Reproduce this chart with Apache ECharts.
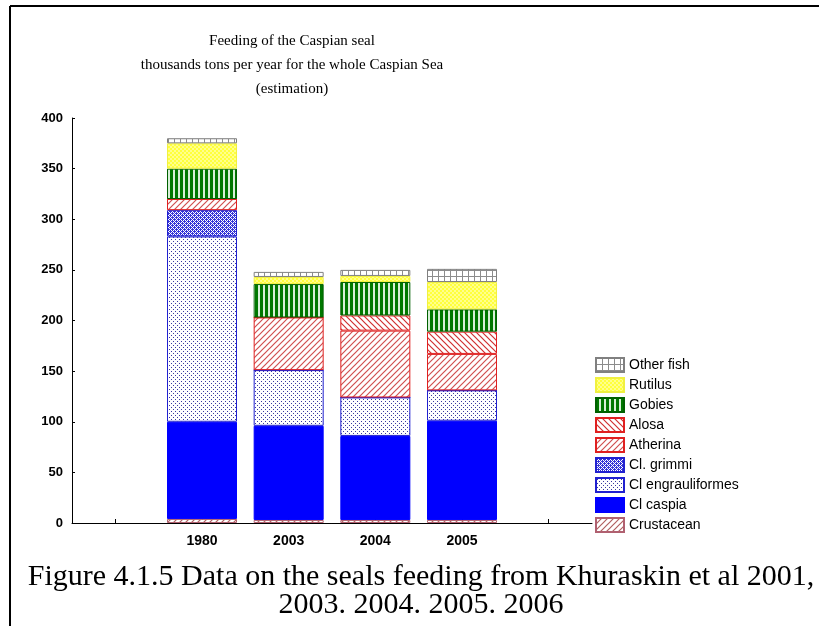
<!DOCTYPE html>
<html>
<head>
  <meta charset="UTF-8">
  <title>Feeding of the Caspian seal</title>
  <script src="https://cdn.jsdelivr.net/npm/echarts@6/dist/echarts.min.js"></script>
  <style>
    html, body { margin: 0; padding: 0; background: #fff; }
    #chart { width: 819px; height: 626px; }
  </style>
</head>
<body>
<div id="chart"></div>
<script>
  // data (thousand tons per year)
  var years = ['', '1980', '2003', '2004', '2005', ''];
  var crustacean     = [null, 4, 3, 3, 3, null];
  var clCaspia       = [null, 96, 93, 83, 98, null];
  var clEngrauli     = [null, 183, 55, 38, 30, null];
  var clGrimmi       = [null, 26, 0, 0, 0, null];
  var atherina       = [null, 11, 52, 66, 36, null];
  var alosa          = [null, 0, 0, 15, 22, null];
  var gobies         = [null, 30, 33, 33, 22, null];
  var rutilus        = [null, 25, 7, 6, 27, null];
  var otherFish      = [null, 5, 5, 6, 13, null];
  var yTicks = [0, 50, 100, 150, 200, 250, 300, 350, 400];

  // fill patterns
  function tile(w, h, draw) {
    var c = document.createElement('canvas');
    c.width = w; c.height = h;
    var ctx = c.getContext('2d');
    draw(ctx, w, h);
    return { image: c, repeat: 'repeat' };
  }
  function diag(color, back) {
    return tile(6, 6, function (ctx, w, h) {
      ctx.fillStyle = '#fff'; ctx.fillRect(0, 0, w, h);
      ctx.strokeStyle = color; ctx.lineWidth = 1.2;
      ctx.beginPath();
      if (back) {
        ctx.moveTo(-1, -1); ctx.lineTo(7, 7);
        ctx.moveTo(-1, 5); ctx.lineTo(1, 7);
        ctx.moveTo(5, -1); ctx.lineTo(7, 1);
      } else {
        ctx.moveTo(-1, 7); ctx.lineTo(7, -1);
        ctx.moveTo(-1, 1); ctx.lineTo(1, -1);
        ctx.moveTo(5, 7); ctx.lineTo(7, 5);
      }
      ctx.stroke();
    });
  }
  var pat = {
    other: tile(6, 6, function (ctx, w, h) {
      ctx.fillStyle = '#fff'; ctx.fillRect(0, 0, w, h);
      ctx.fillStyle = '#8c8c8c';
      ctx.fillRect(0, 0, w, 1); ctx.fillRect(0, 0, 1, h);
    }),
    rutilus: tile(4, 4, function (ctx, w, h) {
      ctx.fillStyle = '#ffff3c'; ctx.fillRect(0, 0, w, h);
      ctx.fillStyle = '#ffff8c';
      ctx.fillRect(0, 0, 2, 2); ctx.fillRect(2, 2, 2, 2);
    }),
    gobies: tile(5, 2, function (ctx, w, h) {
      ctx.fillStyle = '#007800'; ctx.fillRect(0, 0, w, h);
      ctx.fillStyle = '#d8f0d8'; ctx.fillRect(3, 0, 2, h);
    }),
    alosa: diag('#d03030', true),
    atherina: diag('#d05050', false),
    grimmi: tile(4, 4, function (ctx, w, h) {
      ctx.fillStyle = '#fff'; ctx.fillRect(0, 0, w, h);
      ctx.fillStyle = '#3535d8';
      ctx.fillRect(0, 0, 1, 1); ctx.fillRect(2, 0, 1, 1);
      ctx.fillRect(1, 1, 1, 1); ctx.fillRect(3, 1, 1, 1);
      ctx.fillRect(0, 2, 1, 1); ctx.fillRect(2, 2, 1, 1);
      ctx.fillRect(1, 3, 1, 1); ctx.fillRect(3, 3, 1, 1);
      ctx.fillRect(0, 1, 1, 1); ctx.fillRect(2, 3, 1, 1);
    }),
    engrauli: tile(4, 4, function (ctx, w, h) {
      ctx.fillStyle = '#fff'; ctx.fillRect(0, 0, w, h);
      ctx.fillStyle = '#3a3aa0';
      ctx.fillRect(1, 1, 1, 1); ctx.fillRect(3, 3, 1, 1);
    }),
    crust: diag('#b06060', false)
  };

  function seg(name, data, fill, border) {
    return {
      name: name,
      type: 'bar',
      stack: 'food',
      barWidth: 70,
      data: data,
      itemStyle: { color: fill, borderColor: border, borderWidth: 1 },
      emphasis: { disabled: true }
    };
  }

  var series = [
    seg('Crustacean', crustacean, pat.crust, '#b06070'),
    seg('Cl caspia', clCaspia, '#0000ff', '#0000ff'),
    seg('Cl engrauliformes', clEngrauli, pat.engrauli, '#2020d0'),
    seg('Cl. grimmi', clGrimmi, pat.grimmi, '#2020d0'),
    seg('Atherina', atherina, pat.atherina, '#e02020'),
    seg('Alosa', alosa, pat.alosa, '#e02020'),
    seg('Gobies', gobies, pat.gobies, '#006000'),
    seg('Rutilus', rutilus, pat.rutilus, '#f0f040'),
    seg('Other fish', otherFish, pat.other, '#808080')
  ];
  var legendNames = series.map(function (s) { return s.name; }).reverse();

  var chart = echarts.init(document.getElementById('chart'), null, { renderer: 'canvas' });
  var option = {
    animation: false,
    backgroundColor: '#fff',
    title: [
      {
        text: 'Feeding of the Caspian seal\nthousands tons per year for the whole Caspian Sea\n(estimation)',
        left: 287, top: 24, textAlign: 'center',
        textStyle: { fontFamily: 'Liberation Serif', fontWeight: 'normal', fontSize: 15, lineHeight: 24, color: '#000' }
      },
      {
        text: 'Figure 4.1.5 Data on the seals feeding from Khuraskin et al 2001,\n2003. 2004. 2005. 2006',
        left: 416, top: 558, textAlign: 'center',
        textStyle: { fontFamily: 'Liberation Serif', fontWeight: 'normal', fontSize: 30, lineHeight: 28, color: '#000' }
      }
    ],
    legend: {
      orient: 'vertical',
      left: 595, top: 357, padding: 0,
      itemWidth: 28, itemHeight: 14, itemGap: 4,
      icon: 'rect',
      data: legendNames,
      selectedMode: false,
      textStyle: { fontFamily: 'Liberation Sans', fontSize: 14, lineHeight: 14, color: '#000', padding: [0, 0, 0, 0] }
    },
    grid: { left: 72, right: 227, top: 118, bottom: 103 },
    xAxis: {
      type: 'category',
      data: years,
      axisLine: { lineStyle: { color: '#000', width: 1 } },
      axisTick: { show: true, inside: true, length: 4, alignWithLabel: true, lineStyle: { color: '#000' } },
      axisLabel: { fontFamily: 'Liberation Sans', fontWeight: 'bold', fontSize: 14, color: '#000', margin: 11 },
      splitLine: { show: false }
    },
    yAxis: {
      type: 'value',
      min: yTicks[0],
      max: yTicks[yTicks.length - 1],
      interval: yTicks[1] - yTicks[0],
      axisLine: { show: true, lineStyle: { color: '#000', width: 1 } },
      axisTick: { show: true, inside: true, length: 3, lineStyle: { color: '#000' } },
      axisLabel: { fontFamily: 'Liberation Sans', fontWeight: 'bold', fontSize: 13, color: '#000', margin: 9 },
      splitLine: { show: false }
    },
    graphic: [
      { type: 'line', shape: { x1: 10, y1: 6, x2: 819, y2: 6 }, style: { stroke: '#000', lineWidth: 2 } },
      { type: 'line', shape: { x1: 10, y1: 6, x2: 10, y2: 626 }, style: { stroke: '#000', lineWidth: 2 } }
    ],
    series: series
  };
  chart.setOption(option);
</script>
</body>
</html>
